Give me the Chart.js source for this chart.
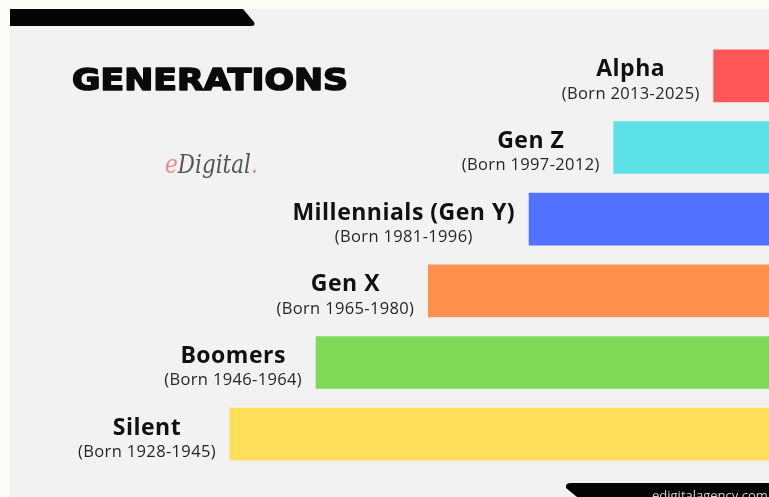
<!DOCTYPE html>
<html>
<head>
<meta charset="utf-8">
<script src="https://cdn.jsdelivr.net/npm/chart.js@4.4.1/dist/chart.umd.min.js"></script>
<style>
  html, body { margin: 0; padding: 0; background: #fdfdf8; overflow: hidden; }
  #wrap { width: 769px; height: 497px; }
</style>
</head>
<body>
<div id="wrap"><canvas id="c" width="769" height="497"></canvas></div>
<script>
// ---- data ----
const generations = ['Alpha', 'Gen Z', 'Millennials (Gen Y)', 'Gen X', 'Boomers', 'Silent'];
const bornRanges = ['(Born 2013-2025)', '(Born 1997-2012)', '(Born 1981-1996)', '(Born 1965-1980)', '(Born 1946-1964)', '(Born 1928-1945)'];
// visible bar length, % of picture width (bars grow from the right edge)
const barLength = [7.2, 20.2, 31.2, 44.3, 58.9, 70.1];
const barColors = ['#ff5757', '#5ce1e6', '#5271ff', '#ff914d', '#7ed957', '#ffde59'];
const chartTitle = 'GENERATIONS';
const footerText = 'edigitalagency.com.au';

function setFont(ctx, font, spacing) {
  ctx.font = font;
  if ('letterSpacing' in ctx) ctx.letterSpacing = spacing + 'px';
}

const decor = {
  id: 'decor',
  beforeDraw(chart) {
    const ctx = chart.ctx;
    const W = chart.width, H = chart.height;
    ctx.save();
    ctx.fillStyle = '#fdfdf8';
    ctx.fillRect(0, 0, W, H);
    ctx.fillStyle = '#f2f2f2';
    ctx.fillRect(10, 9, W - 10, H - 9);
    // top black tab
    ctx.fillStyle = '#050505';
    ctx.beginPath();
    ctx.moveTo(10, 9);
    ctx.lineTo(243, 9);
    ctx.lineTo(254, 22);
    ctx.quadraticCurveTo(256, 26, 251, 26);
    ctx.lineTo(10, 26);
    ctx.closePath();
    ctx.fill();
    // title
    ctx.fillStyle = '#0a0a0a';
    ctx.strokeStyle = '#0a0a0a';
    ctx.lineWidth = 1.6;
    ctx.lineJoin = 'round';
    ctx.font = 'bold 30px "DejaVu Sans"';
    ctx.textBaseline = 'alphabetic';
    ctx.textAlign = 'left';
    const tw = ctx.measureText(chartTitle).width;
    ctx.translate(72, 90);
    ctx.scale(276 / tw, 1);
    ctx.fillText(chartTitle, 0, 0);
    ctx.strokeText(chartTitle, 0, 0);
    ctx.restore();
    // logo
    ctx.save();
    ctx.font = 'italic 26px "DejaVu Serif"';
    ctx.textBaseline = 'alphabetic';
    const ew = ctx.measureText('e').width;
    const rw = ctx.measureText('Digital').width;
    const total = ew + rw;
    ctx.translate(165, 173);
    ctx.scale(86 / total, 1);
    ctx.fillStyle = '#e88b8b';
    ctx.fillText('e', 0, 0);
    ctx.fillStyle = '#555555';
    ctx.fillText('Digital', ew, 0);
    ctx.fillStyle = '#e88b8b';
    ctx.fillText('.', ew + rw, 0);
    ctx.restore();
    // bottom tab
    ctx.save();
    ctx.fillStyle = '#050505';
    ctx.beginPath();
    ctx.moveTo(571, 483);
    ctx.lineTo(W, 483);
    ctx.lineTo(W, H);
    ctx.lineTo(577, H);
    ctx.lineTo(566, 488);
    ctx.quadraticCurveTo(565, 483, 571, 483);
    ctx.closePath();
    ctx.fill();
    ctx.fillStyle = '#cfcfcf';
    ctx.font = '13px "Open Sans"';
    ctx.textBaseline = 'alphabetic';
    ctx.fillText(footerText, 652, 500);
    ctx.restore();
  },
  afterDatasetsDraw(chart) {
    const ctx = chart.ctx;
    const meta = chart.getDatasetMeta(0);
    ctx.save();
    ctx.textAlign = 'center';
    ctx.textBaseline = 'middle';
    const tFont = 'bold 23px "Open Sans"', sFont = '16.5px "Open Sans"';
    const tSp = 0.5, sSp = 0.35;
    meta.data.forEach((el, i) => {
      const left = Math.min(el.x, el.base);
      const cy = el.y;
      setFont(ctx, tFont, tSp);
      const w1 = ctx.measureText(generations[i]).width;
      setFont(ctx, sFont, sSp);
      const w2 = ctx.measureText(bornRanges[i]).width;
      const cx = left - 14 - Math.max(w1, w2) / 2;
      ctx.fillStyle = '#111111';
      setFont(ctx, tFont, tSp);
      ctx.fillText(generations[i], cx, cy - 6);
      ctx.fillStyle = '#262626';
      setFont(ctx, sFont, sSp);
      ctx.fillText(bornRanges[i], cx, cy + 18);
    });
    ctx.restore();
  }
};

new Chart(document.getElementById('c'), {
  type: 'bar',
  data: {
    labels: generations,
    datasets: [{
      data: barLength,
      backgroundColor: barColors,
      borderWidth: 0,
      barThickness: 52
    }]
  },
  options: {
    indexAxis: 'y',
    responsive: false,
    animation: false,
    layout: { padding: { left: 0, right: 0, top: 40, bottom: 27 } },
    plugins: { legend: { display: false }, tooltip: { enabled: false } },
    scales: {
      x: { reverse: true, min: 0, max: 100, display: false },
      y: { display: false }
    }
  },
  plugins: [decor]
});
</script>
</body>
</html>
